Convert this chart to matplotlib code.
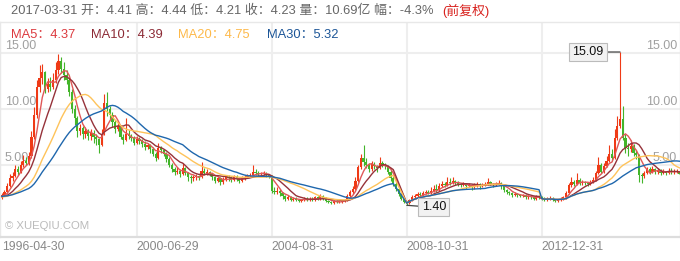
import matplotlib
matplotlib.use('Agg')
import matplotlib.pyplot as plt
import numpy as np
import pandas as pd

plt.rcParams['font.family'] = ['Liberation Sans', 'Noto Sans CJK SC', 'DejaVu Sans']

# ---------------- data (monthly candles, 1996-04 .. 2017-03) ----------------
date_labels = ['1996-04-30', '2000-06-29', '2004-08-31', '2008-10-31', '2012-12-31']
date_index = [0, 50, 100, 150, 200]

# closes of the months before the first drawn candle (only used by the moving averages)
pre_closes = [2.2, 2.3, 2.4, 2.3, 2.2, 2.1, 2.2, 2.3, 2.4, 2.5, 2.4, 2.3, 2.2, 2.1, 2.0,
              2.1, 2.2, 2.1, 2.0, 2.1, 2.2, 2.3, 2.2, 2.1, 2.0, 2.1, 2.2, 2.1, 2.2]

opens = [
    2.1, 2.3, 2.6, 3.1, 3.8, 4.0, 4.6, 4.4, 5.0, 5.4, 5.2, 5.8,
    7.5, 9.5, 12.0, 12.8, 13.3, 11.8, 12.2, 12.0, 12.6, 13.5, 14.3, 13.6,
    13.0, 12.6, 11.5, 10.0, 9.2, 8.0, 8.3, 7.8, 8.0, 7.6, 7.9, 7.5,
    7.3, 6.8, 7.8, 10.5, 10.0, 9.5, 8.8, 8.2, 8.5, 7.5, 7.2, 7.8,
    7.6, 7.4, 7.0, 7.3, 7.1, 6.9, 6.6, 6.8, 6.4, 6.0, 5.6, 6.5,
    6.3, 6.0, 5.5, 5.0, 4.6, 4.4, 4.5, 4.2, 4.7, 4.3, 3.9, 3.8,
    3.9, 4.0, 3.9, 4.5, 4.3, 4.4, 4.2, 3.9, 3.6, 3.8, 3.5, 3.7,
    3.9, 3.8, 3.7, 3.9, 3.8, 3.6, 3.8, 3.9, 4.0, 4.1, 4.4, 4.3,
    4.2, 4.2, 4.3, 4.1, 4.0, 2.7, 2.6, 2.7, 2.5, 2.2, 2.0, 2.1,
    1.9, 2.0, 1.9, 1.8, 1.9, 2.0, 1.9, 2.0, 1.9, 2.1, 2.0, 2.2,
    2.0, 1.8, 1.7, 1.6, 1.8, 1.7, 1.7, 1.8, 1.9, 2.2, 2.6, 2.9,
    3.6, 4.8, 5.6, 5.3, 5.0, 4.6, 5.1, 4.9, 4.7, 5.2, 5.0, 4.9,
    4.4, 3.8, 3.3, 2.9, 2.4, 2.0, 1.7, 1.6, 1.9, 2.1, 2.2, 2.4,
    2.3, 2.5, 2.6, 2.5, 2.7, 2.9, 2.8, 3.1, 3.3, 3.2, 3.5, 3.4,
    3.6, 3.4, 3.3, 3.2, 3.3, 3.1, 3.2, 3.0, 3.2, 3.3, 3.1, 3.2,
    3.3, 3.5, 3.3, 3.2, 3.3, 3.4, 3.1, 2.8, 2.6, 2.5, 2.3, 2.4,
    2.3, 2.2, 2.3, 2.1, 2.2, 2.1, 2.0, 2.2, 2.1, 2.0, 1.9, 1.95,
    2.0, 1.9, 1.8, 1.9, 2.0, 2.1, 2.5, 3.2, 3.5, 3.3, 3.7, 3.4,
    3.5, 3.4, 3.3, 3.5, 3.7, 4.3, 5.0, 4.4, 4.9, 5.4, 6.0, 5.6,
    7.4, 8.5, 9.1, 7.4, 6.5, 6.4, 6.7, 6.1, 5.9, 4.1, 4.0, 4.3,
    4.6, 4.4, 4.6, 4.4, 4.5, 4.3, 4.4, 4.3, 4.5, 4.4, 4.4, 4.41,
]
highs = [
    2.5, 2.8, 3.4, 4.2, 4.4, 5.0, 4.9, 5.4, 5.9, 5.7, 6.2, 8.0,
    10.2, 12.6, 13.9, 14.0, 13.4, 12.8, 12.9, 13.2, 14.2, 14.9, 14.6, 14.2,
    13.5, 12.9, 11.8, 10.4, 9.4, 8.7, 8.5, 8.4, 8.2, 8.2, 8.1, 7.8,
    7.4, 8.2, 11.3, 11.5, 10.3, 9.7, 9.0, 8.9, 8.6, 7.8, 9.2, 8.1,
    7.8, 7.6, 7.6, 7.5, 7.3, 7.1, 7.0, 6.9, 6.6, 6.2, 7.0, 6.7,
    6.4, 6.2, 5.7, 5.2, 4.8, 4.8, 4.6, 5.2, 4.8, 4.4, 4.1, 4.1,
    4.2, 4.1, 5.3, 4.7, 4.6, 4.5, 4.3, 4.0, 3.9, 3.9, 3.9, 4.1,
    4.1, 4.0, 4.1, 4.1, 3.9, 4.0, 4.1, 4.2, 4.3, 5.0, 4.6, 4.5,
    4.4, 4.5, 4.4, 4.2, 4.1, 3.0, 3.0, 2.9, 2.6, 2.3, 2.3, 2.2,
    2.1, 2.1, 2.0, 2.0, 2.1, 2.1, 2.1, 2.1, 2.2, 2.2, 2.4, 2.3,
    2.1, 1.9, 1.8, 1.9, 1.9, 1.8, 1.9, 2.0, 2.4, 2.8, 3.1, 3.9,
    5.0, 6.0, 6.8, 5.6, 5.2, 5.4, 5.3, 5.0, 5.7, 5.4, 5.2, 5.0,
    4.6, 4.0, 3.5, 3.0, 2.5, 2.1, 1.8, 2.0, 2.3, 2.4, 2.6, 2.6,
    2.7, 2.8, 2.8, 3.0, 3.2, 3.3, 3.4, 3.6, 3.5, 3.9, 3.8, 3.9,
    3.7, 3.6, 3.4, 3.5, 3.4, 3.4, 3.3, 3.4, 3.5, 3.4, 3.4, 3.5,
    3.8, 3.6, 3.4, 3.5, 3.7, 3.5, 3.2, 2.9, 2.7, 2.6, 2.6, 2.5,
    2.4, 2.4, 2.4, 2.3, 2.3, 2.2, 2.3, 2.3, 2.2, 2.1, 2.1, 2.2,
    2.1, 2.0, 2.0, 2.1, 2.2, 2.7, 3.4, 3.9, 3.7, 4.3, 3.8, 3.7,
    3.6, 3.5, 3.7, 3.9, 4.5, 5.7, 5.2, 5.2, 5.8, 6.8, 6.4, 8.2,
    9.4, 15.09, 10.3, 7.8, 7.0, 7.2, 6.9, 6.3, 6.0, 4.3, 4.5, 4.8,
    4.8, 4.9, 4.7, 4.7, 4.6, 4.6, 4.5, 4.7, 4.7, 4.6, 4.6, 4.44,
]
lows = [
    2.0, 2.2, 2.5, 3.0, 3.6, 3.9, 4.1, 4.3, 4.8, 5.0, 5.0, 5.6,
    7.3, 9.2, 11.5, 12.2, 11.4, 11.5, 11.6, 11.8, 12.3, 13.1, 13.2, 12.6,
    12.2, 11.2, 9.6, 8.6, 7.5, 7.7, 7.3, 7.4, 7.2, 7.2, 7.0, 6.8,
    6.1, 6.7, 7.7, 9.4, 9.1, 8.4, 7.9, 8.0, 7.3, 6.9, 7.1, 7.3,
    7.1, 6.8, 6.9, 6.9, 6.6, 6.3, 6.4, 6.1, 5.8, 5.4, 5.5, 6.1,
    5.8, 5.3, 4.8, 4.4, 4.1, 4.2, 3.9, 4.1, 4.1, 3.6, 3.4, 3.6,
    3.7, 3.7, 3.8, 4.1, 4.1, 4.0, 3.7, 3.4, 3.5, 3.2, 3.3, 3.6,
    3.6, 3.5, 3.6, 3.6, 3.4, 3.5, 3.7, 3.8, 3.9, 4.0, 4.1, 4.0,
    4.0, 4.1, 3.9, 3.8, 2.5, 2.4, 2.4, 2.2, 2.0, 1.8, 1.9, 1.8,
    1.8, 1.8, 1.7, 1.7, 1.8, 1.8, 1.8, 1.8, 1.8, 1.9, 1.9, 1.9,
    1.7, 1.6, 1.5, 1.5, 1.6, 1.6, 1.6, 1.7, 1.8, 2.1, 2.4, 2.8,
    3.5, 4.6, 4.9, 4.7, 4.4, 4.5, 4.6, 4.4, 4.6, 4.8, 4.6, 4.2,
    3.6, 3.1, 2.7, 2.2, 1.9, 1.6, 1.4, 1.5, 1.8, 2.0, 2.1, 2.1,
    2.2, 2.4, 2.4, 2.4, 2.6, 2.6, 2.7, 3.0, 3.0, 3.1, 3.2, 3.3,
    3.2, 3.1, 3.0, 3.1, 2.9, 3.0, 2.8, 2.9, 3.0, 2.9, 3.0, 3.1,
    3.2, 3.2, 3.0, 3.1, 3.2, 2.9, 2.6, 2.4, 2.3, 2.1, 2.2, 2.1,
    2.1, 2.1, 2.0, 2.0, 2.0, 1.9, 1.9, 2.0, 1.9, 1.8, 1.8, 1.9,
    1.8, 1.7, 1.7, 1.8, 1.9, 2.0, 2.4, 3.0, 3.1, 3.2, 3.2, 3.2,
    3.2, 3.1, 3.2, 3.4, 3.6, 4.2, 4.3, 4.3, 4.8, 5.3, 5.4, 5.5,
    7.2, 8.3, 7.2, 6.1, 5.8, 6.2, 5.8, 5.5, 3.5, 3.4, 3.8, 4.2,
    4.2, 4.3, 4.2, 4.2, 4.1, 4.2, 4.1, 4.2, 4.2, 4.2, 4.3, 4.21,
]
closes = [
    2.3, 2.6, 3.1, 3.8, 4.0, 4.6, 4.4, 5.0, 5.4, 5.2, 5.8, 7.5,
    9.5, 12.0, 12.8, 13.3, 11.8, 12.2, 12.0, 12.6, 13.5, 14.3, 13.6, 13.0,
    12.6, 11.5, 10.0, 9.2, 8.0, 8.3, 7.8, 8.0, 7.6, 7.9, 7.5, 7.3,
    6.8, 7.8, 10.5, 10.0, 9.5, 8.8, 8.2, 8.5, 7.5, 7.2, 7.8, 7.6,
    7.4, 7.0, 7.3, 7.1, 6.9, 6.6, 6.8, 6.4, 6.0, 5.6, 6.5, 6.3,
    6.0, 5.5, 5.0, 4.6, 4.4, 4.5, 4.2, 4.7, 4.3, 3.9, 3.8, 3.9,
    4.0, 3.9, 4.5, 4.3, 4.4, 4.2, 3.9, 3.6, 3.8, 3.5, 3.7, 3.9,
    3.8, 3.7, 3.9, 3.8, 3.6, 3.8, 3.9, 4.0, 4.1, 4.4, 4.3, 4.2,
    4.2, 4.3, 4.1, 4.0, 2.7, 2.6, 2.7, 2.5, 2.2, 2.0, 2.1, 1.9,
    2.0, 1.9, 1.8, 1.9, 2.0, 1.9, 2.0, 1.9, 2.1, 2.0, 2.2, 2.0,
    1.8, 1.7, 1.6, 1.8, 1.7, 1.7, 1.8, 1.9, 2.2, 2.6, 2.9, 3.6,
    4.8, 5.6, 5.3, 5.0, 4.6, 5.1, 4.9, 4.7, 5.2, 5.0, 4.9, 4.4,
    3.8, 3.3, 2.9, 2.4, 2.0, 1.7, 1.6, 1.9, 2.1, 2.2, 2.4, 2.3,
    2.5, 2.6, 2.5, 2.7, 2.9, 2.8, 3.1, 3.3, 3.2, 3.5, 3.4, 3.6,
    3.4, 3.3, 3.2, 3.3, 3.1, 3.2, 3.0, 3.2, 3.3, 3.1, 3.2, 3.3,
    3.5, 3.3, 3.2, 3.3, 3.4, 3.1, 2.8, 2.6, 2.5, 2.3, 2.4, 2.3,
    2.2, 2.3, 2.1, 2.2, 2.1, 2.0, 2.2, 2.1, 2.0, 1.9, 1.95, 2.0,
    1.9, 1.8, 1.9, 2.0, 2.1, 2.5, 3.2, 3.5, 3.3, 3.7, 3.4, 3.5,
    3.4, 3.3, 3.5, 3.7, 4.3, 5.0, 4.4, 4.9, 5.4, 6.0, 5.6, 7.4,
    8.5, 9.1, 7.4, 6.5, 6.4, 6.7, 6.1, 5.9, 4.1, 4.0, 4.3, 4.6,
    4.4, 4.6, 4.4, 4.5, 4.3, 4.4, 4.3, 4.5, 4.4, 4.4, 4.42, 4.23,
]

ma_windows = [5, 10, 20, 30]
ma_texts = ['MA5：4.37', 'MA10：4.39', 'MA20：4.75', 'MA30：5.32']
ma_restarts = [150, 200]      # the moving averages start afresh at these candles
ma_missing = [146, 147, 148, 149]   # months without a moving-average point

header_text = '2017-03-31 开：4.41 高：4.44 低：4.21 收：4.23 量：10.69亿 幅：-4.3%'
header_tag = '(前复权)'
y_ticks = [5, 10, 15]
max_point = (229, 15.09)
min_point = (150, 1.40)

# ---------------- styling ----------------
UP = '#ef3a16'
DOWN = '#43b52a'
ma_line_colors = ['#e05858', '#96323a', '#fec35a', '#1f67ad']
ma_text_colors = ['#dc3a3f', '#8c2a35', '#fdb94a', '#1c5597']
GRID = '#eeeeee'

fig = plt.figure(figsize=(6.8, 2.61), dpi=100)
W, H = 680.0, 261.0
ax = fig.add_axes([0.0, (H - 237) / H, 1.0, (237 - 22) / H])

o = np.array(opens); h = np.array(highs); l = np.array(lows); c = np.array(closes)
n = len(c)
x = np.arange(n)
cols = np.where(c >= o, UP, DOWN)

ax.set_xlim(-0.65, 251.2)
ax.set_ylim(-1.43, 17.77)

for t in y_ticks:
    ax.axhline(t, color=GRID, lw=1.5, zorder=0)
for xi in date_index[1:]:
    ax.axvline(xi, color=GRID, lw=1.5, zorder=0)

ax.vlines(x, l, h, colors=cols, lw=0.8, zorder=2)
ax.bar(x, np.maximum(np.abs(c - o), 0.05), bottom=np.minimum(o, c), width=0.82,
       color=cols, linewidth=0, zorder=3)

# moving averages: first part also sees the months before the window,
# later parts restart at the listed candles
n_pre = len(pre_closes)
full = pd.Series(list(pre_closes) + list(closes))
bounds = [0] + ma_restarts + [n]
for w, col in zip(ma_windows, ma_line_colors):
    vals = []
    for k, (a, b) in enumerate(zip(bounds[:-1], bounds[1:])):
        if k == 0:
            seg = full.iloc[:n_pre + b].rolling(w, min_periods=1).mean().iloc[n_pre:]
        else:
            seg = full.iloc[n_pre + a:n_pre + b].rolling(w, min_periods=1).mean()
        vals.extend(seg.values.tolist())
    vals = pd.Series(vals, index=x)
    vals = vals.drop(ma_missing)
    ax.plot(vals.index, vals.values, color=col, lw=1.0, zorder=4)

# price labels
for t in y_ticks:
    ax.annotate(f'{t:.2f}', (0, t), xycoords=('axes fraction', 'data'),
                xytext=(5, 1), textcoords='offset pixels', ha='left', va='bottom',
                fontsize=9, color='#a0a0a0', zorder=1)
    ax.annotate(f'{t:.2f}', (1, t), xycoords=('axes fraction', 'data'),
                xytext=(-3, 1), textcoords='offset pixels', ha='right', va='bottom',
                fontsize=9, color='#a0a0a0', zorder=1)

# max / min markers
bbox = dict(boxstyle='square,pad=0.25', fc='#f2f2f2', ec='#bbbbbb', lw=0.8)
ax.annotate(f'{max_point[1]:.2f}', max_point, xytext=(-32, 0), textcoords='offset pixels',
            ha='center', va='center', fontsize=9, color='#111111', bbox=bbox,
            arrowprops=dict(arrowstyle='-', color='#444444', lw=0.9,
                            shrinkA=0, shrinkB=0), zorder=6)
ax.annotate(f'{min_point[1]:.2f}', min_point, xytext=(27, -2), textcoords='offset pixels',
            ha='center', va='center', fontsize=9, color='#111111', bbox=bbox,
            arrowprops=dict(arrowstyle='-', color='#444444', lw=0.9,
                            shrinkA=0, shrinkB=0), zorder=6)

ax.text(5 / W, (237 - 226) / 215, '© XUEQIU.COM', transform=ax.transAxes,
        fontsize=8.2, color='#bbbbbb', ha='left', va='center')

ax.set_xticks([]); ax.set_yticks([])
for side in ['left', 'right', 'top']:
    ax.spines[side].set_color('#e8e8e8'); ax.spines[side].set_linewidth(1.0)
ax.spines['bottom'].set_color('#dddddd'); ax.spines['bottom'].set_linewidth(1.6)

# date labels
for lab, xi in zip(date_labels, date_index):
    xp = ax.transData.transform((xi, 0))[0]
    fig.text(max(xp, 1) / W, (H - 247) / H, lab, ha='left', va='center',
             fontsize=8.8, color='#888888')

# header
t1 = fig.text(11 / W, (H - 11) / H, header_text, ha='left', va='center',
              fontsize=9.3, color='#666666')
fig.canvas.draw()
bb = t1.get_window_extent()
fig.text((bb.x1 + 9) / W, (H - 11) / H, header_tag, ha='left', va='center',
         fontsize=9.3, color='#d8201c')

# MA legend
ma_x = [11, 91, 178, 267]
for txt, col, xp in zip(ma_texts, ma_text_colors, ma_x):
    fig.text(xp / W, (H - 35) / H, txt, ha='left', va='center', fontsize=9.3, color=col)

fig.savefig('out.png', dpi=100)
